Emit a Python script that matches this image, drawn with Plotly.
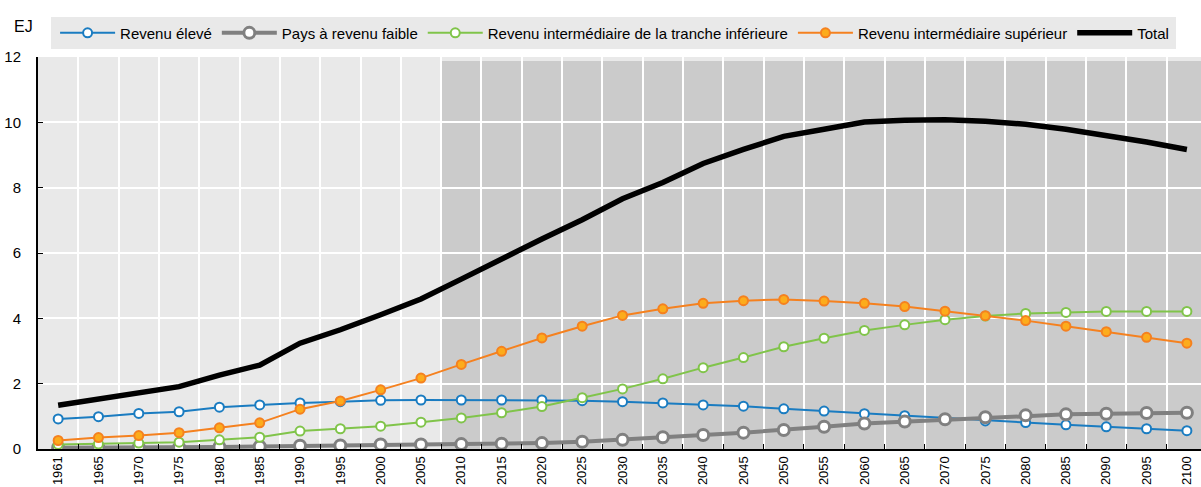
import plotly.graph_objects as go

years = ["1961", "1965", "1970", "1975", "1980", "1985", "1990", "1995", "2000", "2005",
         "2010", "2015", "2020", "2025", "2030", "2035", "2040", "2045", "2050", "2055",
         "2060", "2065", "2070", "2075", "2080", "2085", "2090", "2095", "2100"]

revenu_eleve = [0.92, 0.99, 1.09, 1.14, 1.28, 1.35, 1.41, 1.45, 1.49, 1.50,
                1.50, 1.50, 1.50, 1.48, 1.45, 1.41, 1.35, 1.31, 1.23, 1.16,
                1.08, 1.02, 0.93, 0.86, 0.81, 0.74, 0.68, 0.62, 0.56]
revenu_faible = [0.04, 0.04, 0.05, 0.05, 0.06, 0.08, 0.10, 0.11, 0.14, 0.14,
                 0.15, 0.16, 0.18, 0.22, 0.28, 0.36, 0.43, 0.50, 0.58, 0.68,
                 0.78, 0.84, 0.91, 0.97, 1.03, 1.06, 1.08, 1.10, 1.11]
interm_inf = [0.14, 0.15, 0.18, 0.21, 0.28, 0.36, 0.55, 0.62, 0.70, 0.82,
              0.95, 1.11, 1.30, 1.57, 1.84, 2.15, 2.49, 2.80, 3.13, 3.39,
              3.63, 3.80, 3.96, 4.07, 4.15, 4.18, 4.21, 4.21, 4.21]
interm_sup = [0.26, 0.35, 0.41, 0.50, 0.65, 0.80, 1.22, 1.47, 1.81, 2.17,
              2.59, 2.99, 3.40, 3.76, 4.09, 4.29, 4.46, 4.54, 4.58, 4.53,
              4.46, 4.36, 4.22, 4.08, 3.93, 3.76, 3.59, 3.42, 3.24]
total = [1.34, 1.52, 1.72, 1.91, 2.26, 2.57, 3.24, 3.65, 4.11, 4.59,
         5.20, 5.83, 6.43, 7.02, 7.66, 8.16, 8.74, 9.17, 9.57, 9.79,
         10.01, 10.06, 10.08, 10.03, 9.94, 9.79, 9.60, 9.40, 9.17]

names = ["Revenu élevé", "Pays à revenu faible",
         "Revenu intermédiaire de la tranche inférieure",
         "Revenu intermédiaire supérieur", "Total"]
y_ticks = [0, 2, 4, 6, 8, 10, 12]
projection_start = "2010"

FONT = "Liberation Sans, Arial, sans-serif"

fig = go.Figure()
fig.add_trace(go.Scatter(x=years, y=revenu_eleve, name=names[0], mode="lines+markers",
                         line=dict(color="#1a7cc1", width=2),
                         marker=dict(size=9, color="white", line=dict(color="#1a7cc1", width=2))))
fig.add_trace(go.Scatter(x=years, y=revenu_faible, name=names[1], mode="lines+markers",
                         line=dict(color="#808080", width=4),
                         marker=dict(size=11, color="white", line=dict(color="#808080", width=3))))
fig.add_trace(go.Scatter(x=years, y=interm_inf, name=names[2], mode="lines+markers",
                         line=dict(color="#80c44a", width=2),
                         marker=dict(size=9, color="white", line=dict(color="#80c44a", width=2))))
fig.add_trace(go.Scatter(x=years, y=interm_sup, name=names[3], mode="lines+markers",
                         line=dict(color="#f5811f", width=2),
                         marker=dict(size=9, color="#fcac1c", line=dict(color="#f5811f", width=2))))
fig.add_trace(go.Scatter(x=years, y=total, name=names[4], mode="lines",
                         line=dict(color="black", width=5.5)))

# projection shading (boundary between 2005 and 2010 categories)
p0 = years.index(projection_start) - 0.5
fig.add_shape(type="rect", xref="x", yref="y", x0=p0, x1=len(years) - 0.5, y0=0, y1=11.88,
              fillcolor="#cbcbcb", line=dict(width=0), layer="below")

# legend background box
fig.add_shape(type="rect", xref="paper", yref="paper", x0=0.0112, x1=0.9785, y0=1.0204, y1=1.102,
              fillcolor="#e9e9e9", line=dict(width=0), layer="below")

fig.add_annotation(text="EJ", xref="paper", yref="paper", x=-0.0224, y=1.078,
                   xanchor="left", yanchor="middle", showarrow=False,
                   font=dict(family=FONT, size=16, color="black"))

fig.update_layout(
    width=1201, height=487,
    margin=dict(l=38, r=0, t=57, b=38),
    paper_bgcolor="white", plot_bgcolor="#e9e9e9",
    font=dict(family=FONT, size=14, color="black"),
    showlegend=True,
    legend=dict(orientation="h", x=0.0147, y=1.061, xanchor="left", yanchor="middle",
                bgcolor="rgba(0,0,0,0)", font=dict(family=FONT, size=15, color="black"),
                traceorder="normal", itemwidth=55),
)
fig.update_xaxes(type="category", range=[-0.5, len(years) - 0.65], tickson="boundaries",
                 showgrid=True, gridcolor="white", gridwidth=2,
                 showline=True, linecolor="black", linewidth=2,
                 ticks="inside", ticklen=5, tickcolor="black", tickwidth=1,
                 tickangle=-90, tickfont=dict(family=FONT, size=13), automargin=False,
                 zeroline=False)
fig.update_yaxes(range=[0, 12], tickvals=y_ticks, showgrid=True, gridcolor="white", gridwidth=2,
                 showline=True, linecolor="black", linewidth=2,
                 ticks="inside", ticklen=5, tickcolor="black", tickwidth=1,
                 ticklabelstandoff=12,
                 tickfont=dict(family=FONT, size=15), automargin=False, zeroline=False)

fig.write_html("out.html", config={"displayModeBar": False},
               post_script="document.body.style.margin='0';document.body.style.overflow='hidden';")
